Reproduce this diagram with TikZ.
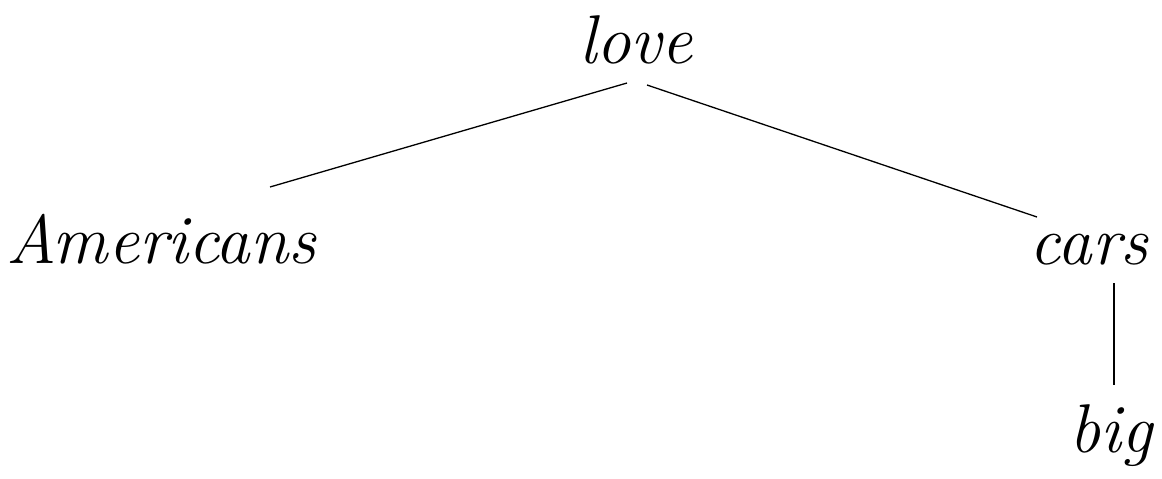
\documentclass[tikz,border=0pt]{standalone}
\begin{document}
\begin{tikzpicture}[x=1pt,y=-1pt,
  word/.style={anchor=base,inner sep=0pt,font=\fontsize{69}{80}\selectfont\itshape},
  edge/.style={line width=1.3pt}]
\useasboundingbox (0,0) rectangle (1162,479);
\node[word] (love) at (636,63) {love};
\node[word] (americans) at (161,263) {Americans};
\node[word] (cars) at (1089,264) {cars};
\node[word] (big) at (1111,452) {big};
\coordinate (l1) at (627,83);
\coordinate (a1) at (270,187);
\coordinate (l2) at (647,85);
\coordinate (c1) at (1037,217);
\coordinate (c2) at (1114,283);
\coordinate (b1) at (1114,385);
\draw[edge] (l1) -- (a1);
\draw[edge] (l2) -- (c1);
\draw[edge] (c2) -- (b1);
\end{tikzpicture}
\end{document}
